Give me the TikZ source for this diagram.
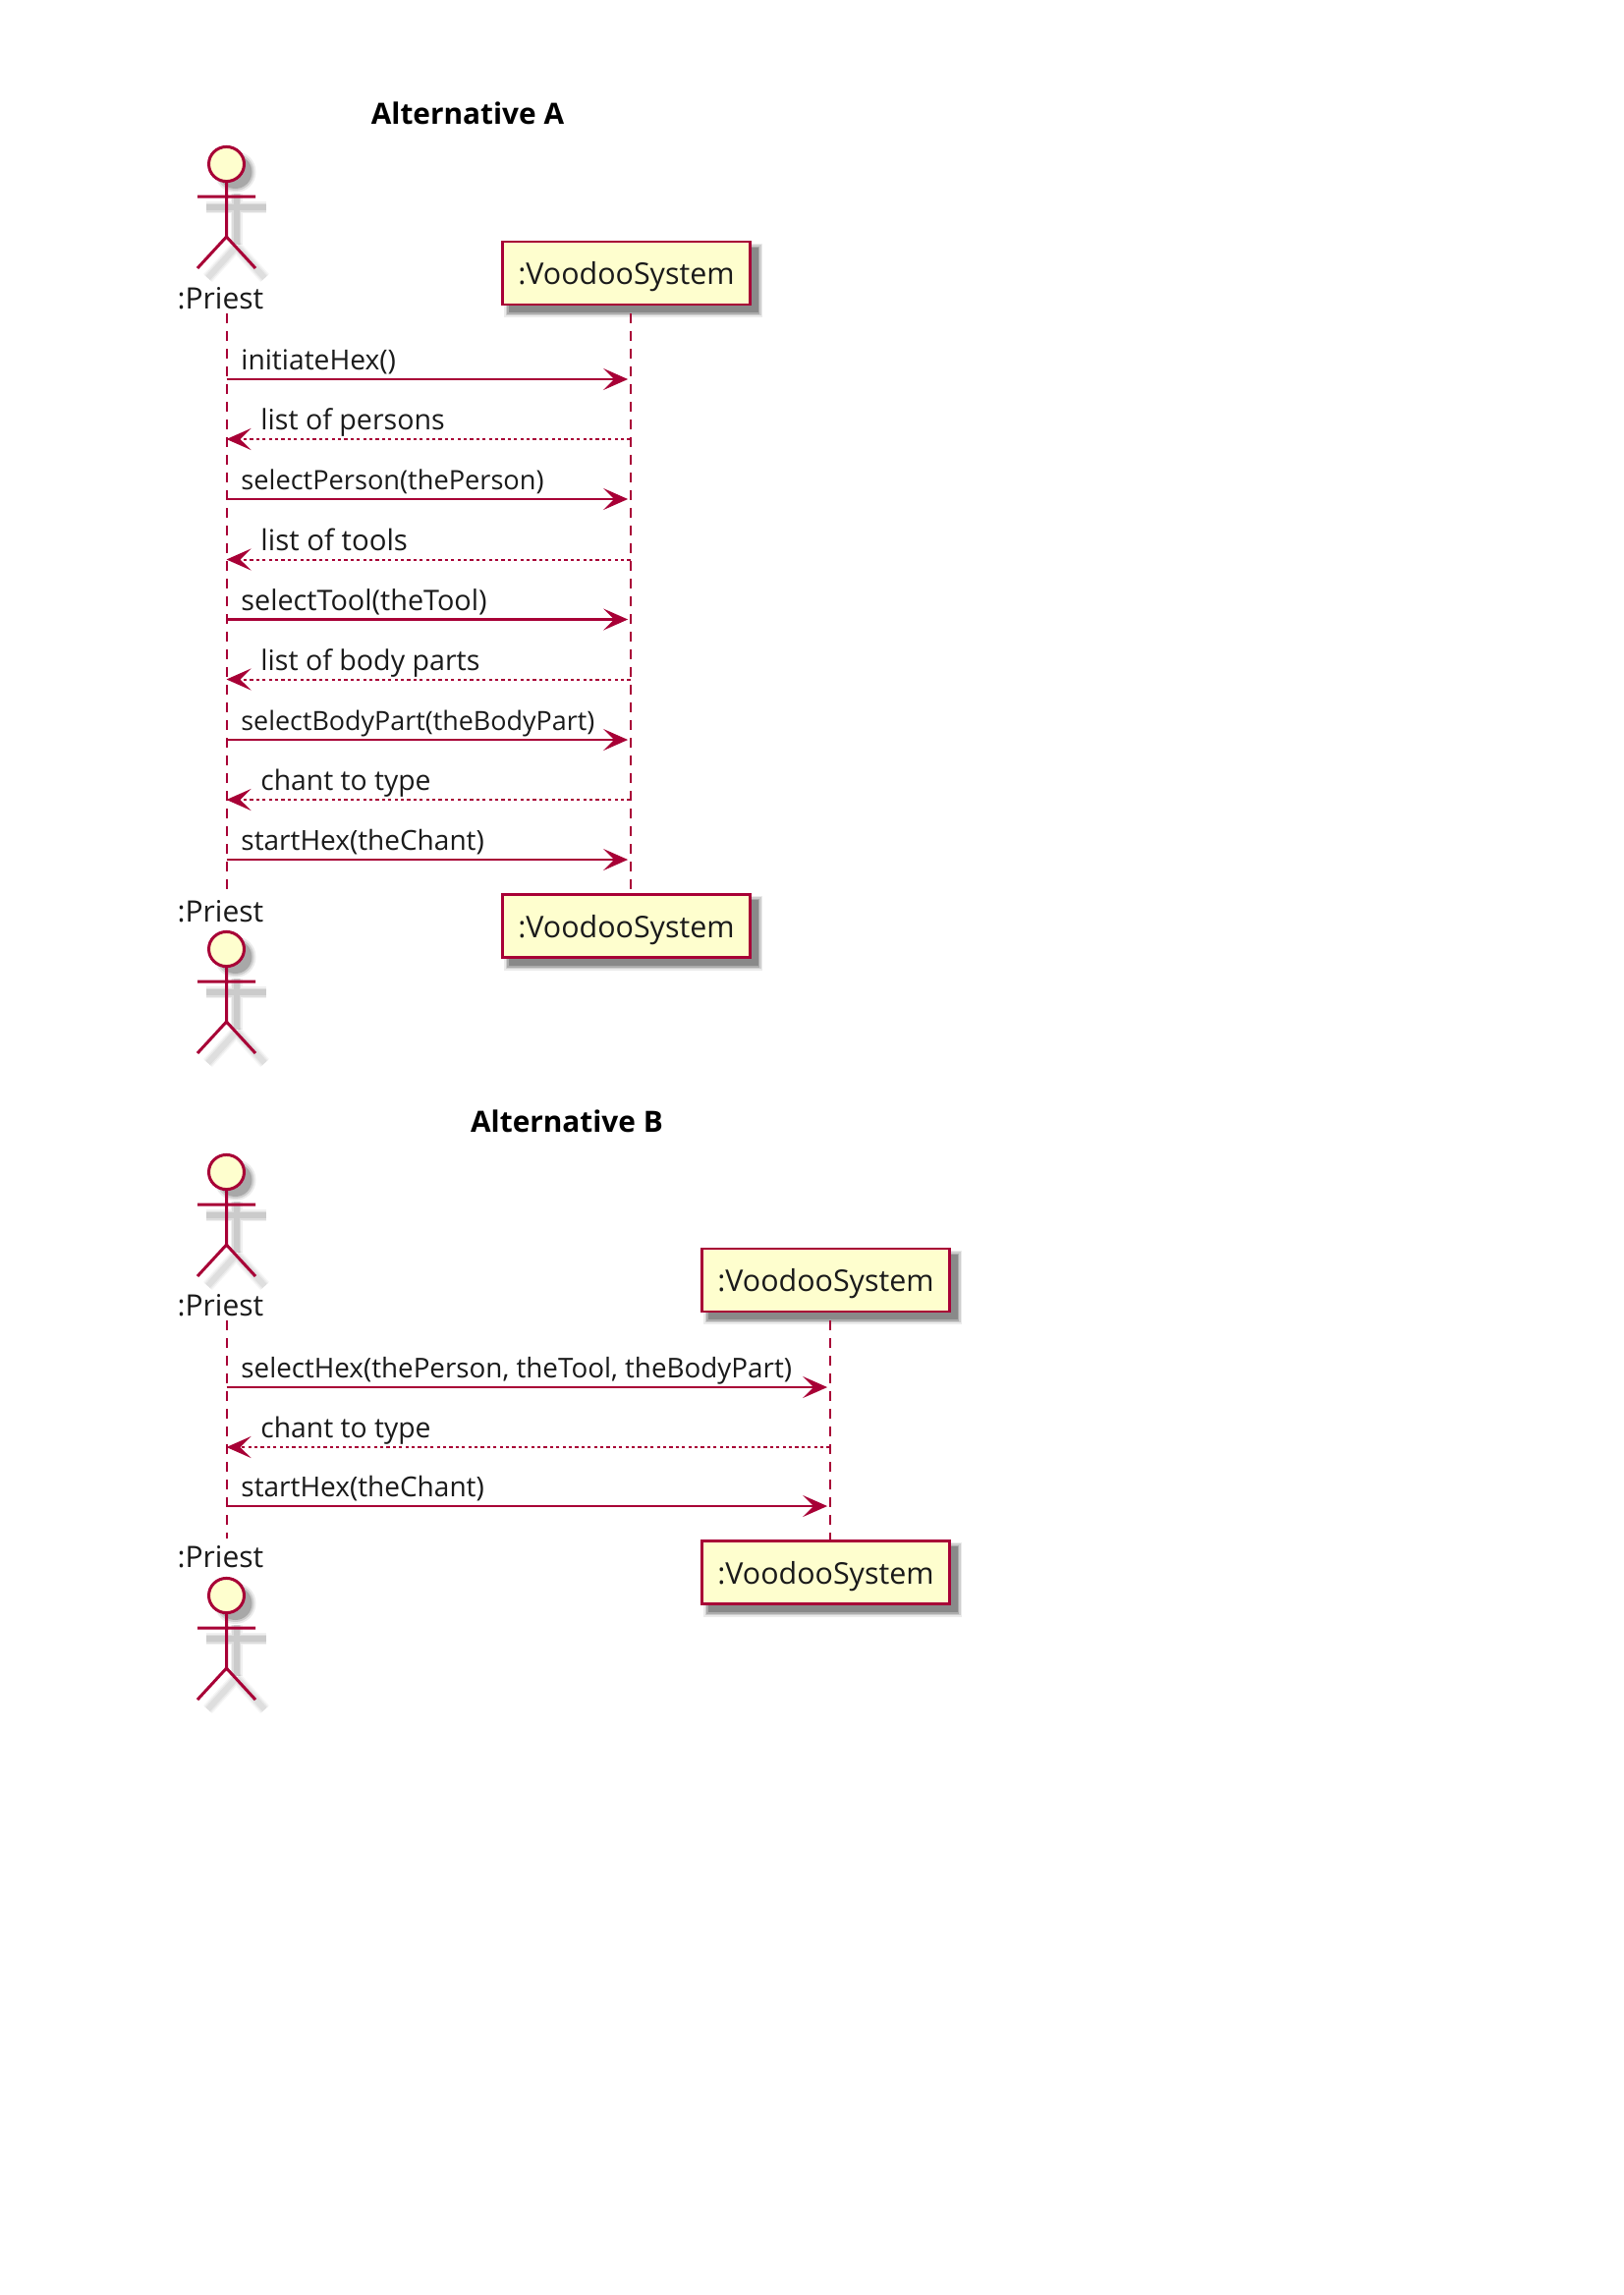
\documentclass[tikz,border=0pt]{standalone}
\usepackage{fontspec}
\setmainfont{Open Sans}
\usetikzlibrary{arrows.meta}
\definecolor{umlred}{HTML}{A80036}
\definecolor{umlfill}{HTML}{FEFECE}
\definecolor{umltext}{HTML}{1A1A1A}
\tikzset{
  x=0.5pt,y=-0.5pt,
  titletext/.style={font=\bfseries\fontsize{14.9}{16}\selectfont,text=black,inner sep=0},
  actortext/.style={font=\fontsize{15}{17}\selectfont,text=umltext,inner sep=0},
  msgtext/.style={font=\fontsize{#1}{15}\selectfont,text=umltext,inner sep=0,anchor=base west},
  msgtext/.default=13.9,
  sysbox/.style={draw=umlred,fill=umlfill,line width=1.3pt,minimum width=126pt,minimum height=32pt,inner sep=0,text depth=0pt,font=\fontsize{15.2}{17}\selectfont,text=umltext},
  lifeline/.style={draw=umlred,line width=1pt,dash pattern=on 5pt off 4pt},
  call/.style={draw=umlred,line width=1.2pt,-{Stealth[length=12.5pt,width=11pt,inset=5.5pt,fill=umlred]},shorten >=1.2pt},
  reply/.style={draw=umlred,line width=1pt,dash pattern=on 1.6pt off 1.6pt,-{Stealth[length=12.5pt,width=11pt,inset=5.5pt,fill=umlred]}},
  actorline/.style={draw=umlred,line width=1.5pt,fill=none},
  actorhead/.style={draw=umlred,line width=1.5pt,fill=umlfill},
}
% \actorfig{x}{y of head centre}
\newcommand{\actorfig}[2]{%
  \begin{scope}[shift={(#1,#2)}]
    \foreach \r/\o in {10.5/0.08,9.5/0.12,8.5/0.18}{
      \fill[black,opacity=\o] (9,8) ellipse [x radius=\r pt,y radius=\r pt];
    }
    \foreach \w/\o in {6/0.06,4.5/0.08,3/0.08}{
      \draw[black,opacity=\o,line width=\w pt] (-21,44) -- (40,44) (10,30) -- (10,82);
      \draw[black,opacity=\o*0.6,line width=\w pt] (10,84) -- (-19,116) (10,84) -- (39,116);
    }
    \draw[actorhead] (0,0) ellipse [x radius=9pt,y radius=8.8pt];
    \draw[actorline] (0,17.5) -- (0,74) (-29.5,33) -- (29.5,33) (-29.5,106) -- (0,74) -- (29.5,106);
  \end{scope}}
% \sysshadow{x1}{y1}{x2}{y2}
\newcommand{\sysshadow}[4]{%
  \foreach \g/\o in {5.5/0.08,4/0.12,2.5/0.16,1/0.2}{
    \fill[black,opacity=\o] (#1+7-\g,#2+7-\g) rectangle (#3+7+\g,#4+7+\g);
  }}
\begin{document}
\begin{tikzpicture}
\useasboundingbox[fill=white] (0,0) rectangle (1653,2336);

% ===== Alternative A =====
\node[titletext] (titleA) at (476,115) {Alternative A};
\actorfig{230.5}{167}
\node[actortext] (pA1) at (224.5,303.5) {:Priest};
\sysshadow{511.5}{246}{763.5}{310}
\coordinate (lpA1) at (230.5,319);
\coordinate (lpA2) at (230.5,912);
\coordinate (lvA1) at (641.5,319);
\coordinate (lvA2) at (641.5,910);
\draw[lifeline] (lpA1) -- (lpA2);
\draw[lifeline] (lvA1) -- (lvA2);
\node[sysbox] (vA1) at (637.5,278) {:VoodooSystem};
\node[actortext] (pA2) at (224.5,928) {:Priest};
\actorfig{230.5}{966}
\sysshadow{511.5}{910}{763.5}{975}
\node[sysbox] (vA2) at (637.5,942.5) {:VoodooSystem};

\foreach \n/\y in {1/386,2/447,3/508,4/569.5,5/630.5,6/691.5,7/753,8/814,9/875}{
  \coordinate (pm\n) at (230.5,\y);
  \coordinate (vm\n) at (641.5,\y);
}
\draw[call]  (pm1) -- (vm1);
\draw[reply] (vm2) -- (pm2);
\draw[call]  (pm3) -- (vm3);
\draw[reply] (vm4) -- (pm4);
\draw[call]  (pm5) -- (vm5);
\draw[reply] (vm6) -- (pm6);
\draw[call]  (pm7) -- (vm7);
\draw[reply] (vm8) -- (pm8);
\draw[call]  (pm9) -- (vm9);
\node[msgtext=14.1] (tm1) at (245,376.5) {initiateHex()};
\node[msgtext=14.3] (tm2) at (265,437.5) {list of persons};
\node[msgtext=13.6] (tm3) at (245,498.5) {selectPerson(thePerson)};
\node[msgtext=14.7] (tm4) at (265,560) {list of tools};
\node[msgtext=14.4] (tm5) at (245,621) {selectTool(theTool)};
\node[msgtext=14.3] (tm6) at (265,682) {list of body parts};
\node[msgtext=13.45] (tm7) at (245,743.5) {selectBodyPart(theBodyPart)};
\node[msgtext=14.15] (tm8) at (265,804.5) {chant to type};
\node[msgtext=14] (tm9) at (245,865.5) {startHex(theChant)};

% ===== Alternative B =====
\node[titletext] (titleB) at (577,1141) {Alternative B};
\actorfig{230.5}{1193}
\node[actortext] (pB1) at (224.5,1329) {:Priest};
\sysshadow{714.5}{1271}{966.5}{1335}
\coordinate (lpB1) at (230.5,1344);
\coordinate (lpB2) at (230.5,1566);
\coordinate (lvB1) at (844.5,1344);
\coordinate (lvB2) at (844.5,1567);
\draw[lifeline] (lpB1) -- (lpB2);
\draw[lifeline] (lvB1) -- (lvB2);
\node[sysbox] (vB1) at (840.5,1303) {:VoodooSystem};
\node[actortext] (pB2) at (224.5,1585) {:Priest};
\actorfig{230.5}{1624}
\sysshadow{714.5}{1568}{966.5}{1633}
\node[sysbox] (vB2) at (840.5,1600.5) {:VoodooSystem};
\foreach \n/\y in {1/1412,2/1473,3/1533}{
  \coordinate (pn\n) at (230.5,\y);
  \coordinate (vn\n) at (844.5,\y);
}
\draw[call]  (pn1) -- (vn1);
\draw[reply] (vn2) -- (pn2);
\draw[call]  (pn3) -- (vn3);
\node[msgtext] (tn1) at (245,1402) {selectHex(thePerson, theTool, theBodyPart)};
\node[msgtext=14.15] (tn2) at (265,1463) {chant to type};
\node[msgtext=14] (tn3) at (245,1523) {startHex(theChant)};
\end{tikzpicture}
\end{document}
